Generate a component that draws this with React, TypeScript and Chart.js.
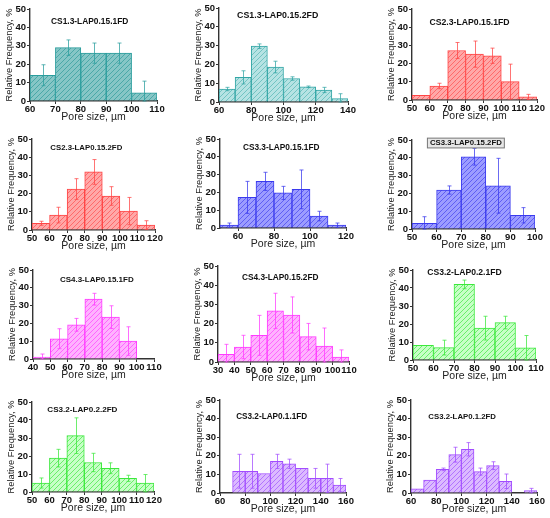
import { useEffect, useRef } from 'react';
import { Chart, registerables } from 'chart.js';

Chart.register(...registerables);

const FONT = '"Liberation Sans", Arial, Helvetica, sans-serif';

// bin centres, µm
const bins60to110 = [65, 75, 85, 95, 105];
const bins60to140 = [65, 75, 85, 95, 105, 115, 125, 135];
const bins50to120 = [55, 65, 75, 85, 95, 105, 115];
const bins50to100 = [55, 65, 75, 85, 95];
const bins40to100 = [45, 55, 65, 75, 85, 95];
const bins30to110 = [35, 45, 55, 65, 75, 85, 95, 105];
const bins50to110 = [55, 65, 75, 85, 95, 105];
const bins70to160 = [75, 85, 95, 105, 115, 125, 135, 145, 155];
const bins60to160 = [65, 75, 85, 95, 105, 115, 125, 135, 145, 155];

// x tick labels
const xt60to110 = [60, 70, 80, 90, 100, 110];
const xt60to140 = [60, 80, 100, 120, 140];
const xt50to120 = [50, 60, 70, 80, 90, 100, 110, 120];
const xt60to120by20 = [60, 80, 100, 120];
const xt50to100 = [50, 60, 70, 80, 90, 100];
const xt40to110 = [40, 50, 60, 70, 80, 90, 100, 110];
const xt30to110 = [30, 40, 50, 60, 70, 80, 90, 100, 110];
const xt50to110 = [50, 60, 70, 80, 90, 100, 110];
const xt60to160 = [60, 80, 100, 120, 140, 160];
const yTicks = [0, 10, 20, 30, 40, 50];

// relative frequency, % and its error
const cs13a15n1Freq = [14, 29, 26, 26, 4.5];
const cs13a15n1Err = [5.7, 4.2, 5.5, 5.5, 6.3];
const cs13a15n2Freq = [6.9, 13.1, 29.7, 18.6, 12.5, 8.1, 6.4, 1.8];
const cs13a15n2Err = [0.9, 3.5, 1.2, 3.1, 0.9, 0.4, 1.4, 2.6];
const cs23a15n1Freq = [2.6, 7.7, 27.2, 25.2, 24.3, 10.1, 1.7];
const cs23a15n1Err = [0, 1.5, 4.4, 7.2, 4.2, 9.6, 1.4];
const cs23a15n2Freq = [3.7, 8.2, 22.5, 31.9, 18.7, 10.4, 2.7];
const cs23a15n2Err = [1.1, 4.3, 5.7, 6.8, 5.1, 7.5, 2.4];
const cs33a15n1Freq = [1.6, 17.2, 26.2, 19.7, 21.7, 6.7, 1.6];
const cs33a15n1Err = [1.2, 9, 5.1, 3.7, 10.9, 2.7, 1.2];
const cs33a15n2Freq = [3.2, 21.9, 40.6, 24.3, 7.7];
const cs33a15n2Err = [3.7, 2.3, 4.7, 15.4, 4.3];
const cs43a15n1Freq = [1.1, 11.4, 19.2, 33.6, 23.5, 10.1];
const cs43a15n1Err = [1.7, 5.6, 3.6, 3.3, 6.4, 8];
const cs43a15n2Freq = [4, 7.8, 13.9, 26.6, 24.5, 13.2, 8.3, 2.6];
const cs43a15n2Err = [5.2, 6.1, 10.4, 9.2, 9.4, 6.9, 9.4, 3.7];
const cs32a2n1Freq = [8.2, 6.9, 42, 17.7, 20.8, 6.7];
const cs32a2n1Err = [0, 4.1, 2.4, 6.6, 3.5, 6.9];
const cs32a2n2Freq = [5, 18.8, 31.3, 16.4, 13.2, 7.6, 4.9];
const cs32a2n2Err = [2.8, 4.9, 9.9, 5.1, 3, 1.7, 4.8];
const cs32a1n1Freq = [11.7, 11.7, 10.5, 17, 15.7, 13.2, 7.9, 7.9, 4.2];
const cs32a1n1Err = [9.1, 9.1, 0, 3.8, 2.5, 0, 5.3, 7.6, 3.6];
const cs32a1n2Freq = [2.3, 7, 12.7, 20.6, 23.5, 11.5, 14.7, 6.3, 0, 1.3];
const cs32a1n2Err = [0, 0, 0.7, 4, 3.6, 1.9, 2.1, 3.9, 0, 1.2];

const titles = [
  'CS1.3-LAP0.15.1FD', 'CS1.3-LAP0.15.2FD', 'CS2.3-LAP0.15.1FD',
  'CS2.3-LAP0.15.2FD', 'CS3.3-LAP0.15.1FD', 'CS3.3-LAP0.15.2FD',
  'CS4.3-LAP0.15.1FD', 'CS4.3-LAP0.15.2FD', 'CS3.2-LAP0.2.1FD',
  'CS3.2-LAP0.2.2FD', 'CS3.2-LAP0.1.1FD', 'CS3.2-LAP0.1.2FD',
];

const teal = { border: '#2a9d9d', bg: '#86c6c6', line: '#4aa8a8' };
const tealLight = { border: '#33a6a6', bg: '#b6e3e3', line: '#72c3c3' };
const red = { border: '#ff4545', bg: '#ffa8a8', line: '#ff6a6a' };
const blue = { border: '#3a3aee', bg: '#9c9cff', line: '#5e5ef4' };
const magenta = { border: '#ff3cff', bg: '#ffb2ff', line: '#ff66ff' };
const green = { border: '#3ce83c', bg: '#c6ffc6', line: '#6aee6a' };
const purple = { border: '#a24cff', bg: '#dcbaff', line: '#b274ff' };

// plot area in page px: left, right, top (50 %), bottom (0 %)
const YW = 30;
const XH = 22;
const PT = 10;
const PR = 12;

type PanelDef = {
  title: string; bins: number[]; freq: number[]; err: number[];
  xMin: number; xMax: number; xTicks: number[];
  box: number[]; titleAt: number[]; titleSize: number; boxed?: boolean;
  col: { border: string; bg: string; line: string };
};

const panels: PanelDef[] = [
  { title: titles[0], bins: bins60to110, freq: cs13a15n1Freq, err: cs13a15n1Err, xMin: 60, xMax: 110, xTicks: xt60to110, box: [30, 157, 9, 101], titleAt: [83.5, 42.9], titleSize: 8.4, col: teal },
  { title: titles[1], bins: bins60to140, freq: cs13a15n2Freq, err: cs13a15n2Err, xMin: 60, xMax: 140, xTicks: xt60to140, box: [219, 348, 8, 102], titleAt: [96.4, 46.1], titleSize: 8.8, col: tealLight },
  { title: titles[2], bins: bins50to120, freq: cs23a15n1Freq, err: cs23a15n1Err, xMin: 50, xMax: 120, xTicks: xt50to120, box: [412, 537, 9, 100], titleAt: [82.2, 42.8], titleSize: 8.7, col: red },
  { title: titles[3], bins: bins50to120, freq: cs23a15n2Freq, err: cs23a15n2Err, xMin: 50, xMax: 120, xTicks: xt50to120, box: [32, 155, 139, 230], titleAt: [80.9, 45], titleSize: 7.8, col: red },
  { title: titles[4], bins: bins50to120, freq: cs33a15n1Freq, err: cs33a15n1Err, xMin: 50, xMax: 120, xTicks: xt60to120by20, box: [220, 346, 139, 228], titleAt: [84, 45.3], titleSize: 8.3, col: blue },
  { title: titles[5], bins: bins50to100, freq: cs33a15n2Freq, err: cs33a15n2Err, xMin: 50, xMax: 100, xTicks: xt50to100, box: [412, 535, 140, 229], titleAt: [71.9, 48.3], titleSize: 7.8, boxed: true, col: blue },
  { title: titles[6], bins: bins40to100, freq: cs43a15n1Freq, err: cs43a15n1Err, xMin: 40, xMax: 110, xTicks: xt40to110, box: [33, 154, 270, 359], titleAt: [76.9, 44.4], titleSize: 8, col: magenta },
  { title: titles[7], bins: bins30to110, freq: cs43a15n2Freq, err: cs43a15n2Err, xMin: 30, xMax: 110, xTicks: xt30to110, box: [218, 349, 266, 362], titleAt: [68, 43.9], titleSize: 8.3, col: magenta },
  { title: titles[8], bins: bins50to110, freq: cs32a2n1Freq, err: cs32a2n1Err, xMin: 50, xMax: 110, xTicks: xt50to110, box: [413, 536, 270, 360], titleAt: [75.1, 48.5], titleSize: 8.6, col: green },
  { title: titles[9], bins: bins50to120, freq: cs32a2n2Freq, err: cs32a2n2Err, xMin: 50, xMax: 120, xTicks: xt50to120, box: [32, 154, 402, 492], titleAt: [78.9, 45.5], titleSize: 8.1, col: green },
  { title: titles[10], bins: bins70to160, freq: cs32a1n1Freq, err: cs32a1n1Err, xMin: 60, xMax: 160, xTicks: xt60to160, box: [220, 346, 400, 493], titleAt: [101, 41], titleSize: 8.2, col: purple },
  { title: titles[11], bins: bins60to160, freq: cs32a1n2Freq, err: cs32a1n2Err, xMin: 60, xMax: 160, xTicks: xt60to160, box: [411, 537, 400, 493], titleAt: [100.6, 40.7], titleSize: 7.8, col: purple },
];

function hatch(bg: string, line: string) {
  const s = 5;
  const c = document.createElement('canvas');
  c.width = s;
  c.height = s;
  const g = c.getContext('2d')!;
  g.fillStyle = bg;
  g.fillRect(0, 0, s, s);
  g.strokeStyle = line;
  g.lineWidth = 1;
  g.beginPath();
  g.moveTo(0, s); g.lineTo(s, 0);
  g.moveTo(-1, 1); g.lineTo(1, -1);
  g.moveTo(s - 1, s + 1); g.lineTo(s + 1, s - 1);
  g.stroke();
  return g.createPattern(c, 'repeat')!;
}

function Panel({ p }: { p: PanelDef }) {
  const ref = useRef<HTMLCanvasElement>(null);

  useEffect(() => {
    if (!ref.current) return;

    const errorBars = {
      id: 'errorBars',
      afterDatasetsDraw(chart: any) {
        const { ctx, scales: { x, y } } = chart;
        ctx.save();
        ctx.strokeStyle = p.col.border;
        ctx.globalAlpha = 0.75;
        ctx.lineWidth = 1;
        p.bins.forEach((b, i) => {
          const e = p.err[i];
          if (!e) return;
          const px = Math.round(x.getPixelForValue(b)) + 0.5;
          const top = y.getPixelForValue(p.freq[i] + e);
          const bot = y.getPixelForValue(Math.max(0, p.freq[i] - e));
          ctx.beginPath();
          ctx.moveTo(px, top); ctx.lineTo(px, bot);
          ctx.moveTo(px - 2, top); ctx.lineTo(px + 2, top);
          ctx.moveTo(px - 2, bot); ctx.lineTo(px + 2, bot);
          ctx.stroke();
        });
        ctx.restore();
      },
    };

    const panelTitle = {
      id: 'panelTitle',
      afterDraw(chart: any) {
        const { ctx, scales: { x, y } } = chart;
        const px = x.getPixelForValue(p.titleAt[0]);
        const py = y.getPixelForValue(p.titleAt[1]);
        ctx.save();
        ctx.font = `bold ${p.titleSize}px ${FONT}`;
        ctx.textAlign = 'center';
        ctx.textBaseline = 'middle';
        if (p.boxed) {
          const w = ctx.measureText(p.title).width + 5;
          const h = p.titleSize + 2;
          ctx.fillStyle = '#e6e6e6';
          ctx.fillRect(px - w / 2, py - h / 2, w, h);
          ctx.strokeStyle = '#777';
          ctx.lineWidth = 1;
          ctx.strokeRect(px - w / 2, py - h / 2, w, h);
        }
        ctx.fillStyle = '#111';
        ctx.fillText(p.title, px, py);
        ctx.restore();
      },
    };

    const axisCommon = {
      grid: { display: true, drawOnChartArea: false, drawTicks: true, tickLength: 3, color: '#333', offset: false },
      border: { display: true, color: '#333', width: 1.4 },
    };

    const chart = new Chart(ref.current, {
      type: 'bar',
      data: {
        datasets: [{
          data: p.bins.map((b, i) => ({ x: b, y: p.freq[i] })),
          backgroundColor: hatch(p.col.bg, p.col.line),
          borderColor: p.col.border,
          borderWidth: 1,
          barPercentage: 1,
          categoryPercentage: 1,
        }],
      },
      options: {
        animation: false,
        responsive: false,
        events: [],
        layout: { padding: { top: PT, right: PR, left: 0, bottom: 0 } },
        plugins: { legend: { display: false }, tooltip: { enabled: false } },
        scales: {
          x: {
            type: 'linear',
            min: p.xMin,
            max: p.xMax,
            offset: false,
            afterBuildTicks: (s: any) => { s.ticks = p.xTicks.map((v) => ({ value: v })); },
            afterFit: (s: any) => { s.height = XH; },
            ...axisCommon,
            ticks: { color: '#111', padding: 1, maxRotation: 0, autoSkip: false, font: { family: FONT, size: 9.5, weight: 'bold', lineHeight: 1 } },
            title: { display: true, text: 'Pore size, µm', color: '#222', padding: 0, font: { family: FONT, size: 10.5 } },
          },
          y: {
            min: 0,
            max: 50,
            afterBuildTicks: (s: any) => { s.ticks = yTicks.map((v) => ({ value: v })); },
            afterFit: (s: any) => { s.width = YW; },
            ...axisCommon,
            ticks: { color: '#111', padding: 1, font: { family: FONT, size: 9.5, weight: 'bold' } },
            title: { display: true, text: 'Relative Frequency, %', color: '#222', padding: { top: 4, bottom: 0 }, font: { family: FONT, size: 9.3 } },
          },
        },
      },
      plugins: [errorBars, panelTitle],
    } as any);

    return () => chart.destroy();
  }, [p]);

  const [L, R, T, B] = p.box;
  return (
    <canvas
      ref={ref}
      width={R - L + YW + PR}
      height={B - T + PT + XH}
      style={{ position: 'absolute', left: L - YW, top: T - PT }}
    />
  );
}

export default function App() {
  return (
    <div style={{ position: 'absolute', left: 0, top: 0, width: 550, height: 518, background: '#fff' }}>
      {panels.map((p, i) => <Panel key={i} p={p} />)}
    </div>
  );
}
